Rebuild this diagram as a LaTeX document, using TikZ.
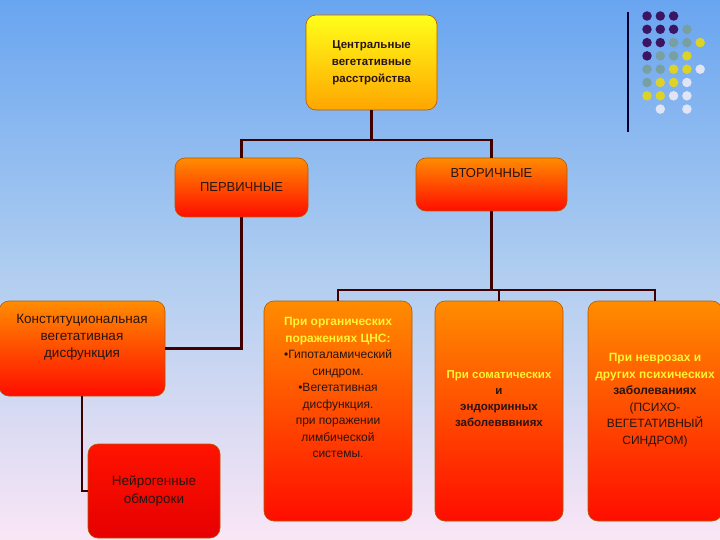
\documentclass[tikz,border=0pt]{standalone}
\usepackage{fontspec}
\setmainfont{Liberation Sans}
\definecolor{dotP}{RGB}{60,20,100}\definecolor{dotG}{RGB}{120,160,160}\definecolor{dotY}{RGB}{220,210,40}\definecolor{dotW}{RGB}{225,228,245}
\definecolor{txt}{RGB}{40,20,20}
\def\skipdot{N}
\begin{document}
\begin{tikzpicture}[x=1pt,y=-1pt,
 box/.style={draw=orange!70!black,line width=0.6pt,rounded corners=10pt,top color=orange!90!yellow,bottom color=red!90!orange,align=center,text=txt,font=\fontsize{12}{14}\selectfont,inner sep=1pt},
 link/.style={draw=black!75!red,line width=2.2pt},
 dot/.style={circle,inner sep=0pt,minimum size=9.5pt}]
\useasboundingbox (0,0) rectangle (720,540);
\shade[top color={rgb,255:red,105;green,165;blue,240},bottom color={rgb,255:red,250;green,230;blue,245},middle color={rgb,255:red,175;green,205;blue,240}] (0,0) rectangle (720,540);
\node[box,top color=yellow!90!white,bottom color=orange!70!yellow,minimum width=131pt,minimum height=95pt,font=\bfseries\fontsize{11.5}{17}\selectfont] (top) at (371.5,62.5) {Центральные\\вегетативные\\расстройства};
\node[box,minimum width=133pt,minimum height=59pt,font=\fontsize{13}{15}\selectfont] (p) at (241.5,187.5) {ПЕРВИЧНЫЕ};
\node[box,minimum width=151pt,minimum height=53pt,font=\fontsize{13}{15}\selectfont] (v) at (491.5,184.5) {ВТОРИЧНЫЕ\\[8pt]};
\node[box,minimum width=166pt,minimum height=95pt,font=\fontsize{13.5}{17}\selectfont] (k) at (82,348.5) {Конституциональная\\вегетативная\\дисфункция\\[8pt]};
\node[box,top color=red!85!orange,bottom color=red!90!black,minimum width=132pt,minimum height=94pt,font=\fontsize{13.5}{18}\selectfont] (n) at (154,491) {Нейрогенные\\обмороки};
\node[box,minimum width=148pt,minimum height=220pt,font=\fontsize{12}{16.5}\selectfont] (o) at (338,411) {\textbf{\color{yellow!80!white}При органических}\\\textbf{\color{yellow!80!white}поражениях ЦНС:}\\•Гипоталамический\\синдром.\\•Вегетативная\\дисфункция.\\при поражении\\лимбической\\системы.\\[30pt]};
\node[box,minimum width=128pt,minimum height=220pt,font=\bfseries\fontsize{11.5}{16}\selectfont] (s) at (499,411) {\textcolor{yellow!80!white}{При соматических}\\и\\эндокринных\\заболевввниях\\[8pt]};
\node[box,minimum width=134pt,minimum height=220pt,font=\fontsize{12}{16.5}\selectfont] (nv) at (655,411) {\textbf{\textcolor{yellow!80!white}{При неврозах и}}\\\textbf{\textcolor{yellow!80!white}{других психических}}\\\textbf{заболеваниях}\\(ПСИХО-\\ВЕГЕТАТИВНЫЙ\\СИНДРОМ)\\[8pt]};
\draw[link] (top.south) -- ++(0,30) -| (p.north);
\draw[link] (top.south) ++(0,30) -| (v.north);
\draw[link] (p.south) |- (k.east);
\draw[link] (k.south) |- (n.west);
\draw[link] (v.south) -- ++(0,79) coordinate (vb) -| (o.north);
\draw[link] (vb) -| (nv.north);
\draw[link] (s.north |- vb) -- (s.north);
\coordinate (l1) at (628,12); \coordinate (l2) at (628,132);
\draw[line width=1.2pt,black!80!blue] (l1) -- (l2);
\foreach \r/\row in {0/{P,P,P},1/{P,P,P,G},2/{P,P,G,G,Y},3/{P,G,G,Y},4/{G,G,Y,Y,W},5/{G,Y,Y,W},6/{Y,Y,W,W},7/{N,W,N,W}}{
 \foreach \c [count=\i from 0] in \row {
  \ifx\c\skipdot\else \node[dot,fill=dot\c] (d\r\i) at (647+13.3*\i,16+13.3*\r) {};\fi }}
\end{tikzpicture}
\end{document}
